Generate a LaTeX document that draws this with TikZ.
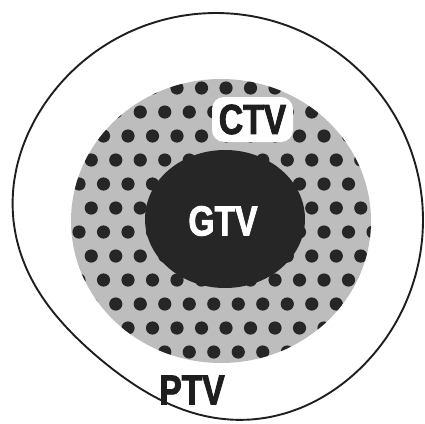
\documentclass[tikz,border=0pt]{standalone}
\usepackage{fontspec}
\newfontfamily\tagfont[FakeStretch=0.8]{Liberation Sans}
\newcommand\heavy[1]{\special{pdf:literal direct 2 Tr 0.9 w}#1\special{pdf:literal direct 0 Tr}}
\definecolor{ink}{HTML}{1E1E1E}
\definecolor{blob}{HTML}{262626}
\definecolor{halftone}{HTML}{BDBDBD}

\begin{document}
\begin{tikzpicture}[x=1pt, y=-1pt,
  tag/.style={font=\tagfont\bfseries\fontsize{42}{42}\selectfont, inner sep=0pt},
  spot/.style={fill=blob},
  rim/.style={draw=ink, line width=1.9pt},
]
\useasboundingbox (0,0) rectangle (425,423);
% planning margin, flattened at lower left
\draw[rim] plot[smooth cycle, domain=0:355, samples=72, variable=\t]
  ({216+(207-26*max(0,cos(\t-130))^4)*cos(\t)}, {220+(207-26*max(0,cos(\t-130))^4)*sin(\t)});
% clinical volume, halftone
\fill[halftone] (221,221) ellipse [x radius=150, y radius=142];
\begin{scope}
  \clip (221,221) ellipse [x radius=150, y radius=142];
  \foreach \row in {0,...,11} {
    \pgfmathsetmacro{\shift}{mod(\row,2)*12.25}
    \foreach \col in {-2,...,12}
      \fill[spot] (128+\shift+24.5*\col, 88+24*\row) circle [radius=6.6];
  }
\end{scope}
% gross tumour
\fill[blob] (225,219) ellipse [x radius=80, y radius=69];
\node[tag, fill=white, rounded corners=12pt, minimum width=81pt, minimum height=45pt, text=ink] (ctv) at (252.5,119.5) {\heavy{CTV}};
\node[tag, text=white] (gtv) at (223,221) {\heavy{GTV}};
\node[tag, text=ink] (ptv) at (192,390) {\heavy{PTV}};
\end{tikzpicture}
\end{document}
